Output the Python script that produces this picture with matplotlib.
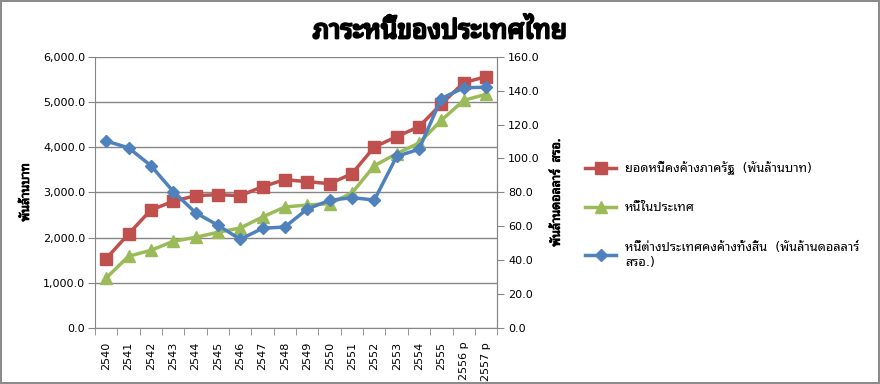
import matplotlib
matplotlib.use('Agg')
import matplotlib.pyplot as plt
import matplotlib.patheffects as pe
from matplotlib.ticker import FuncFormatter, MultipleLocator
import numpy as np

plt.rcParams['font.family'] = ['DejaVu Sans', 'Noto Sans Thai Looped']

years = ['2540', '2541', '2542', '2543', '2544', '2545', '2546', '2547', '2548',
         '2549', '2550', '2551', '2552', '2553', '2554', '2555', '2556 p', '2557 p']

# ยอดหนี้คงค้างภาครัฐ (พันล้านบาท) - left axis
public_debt = [1534, 2080, 2611, 2802, 2928, 2950, 2928, 3127, 3282,
               3237, 3193, 3414, 4004, 4233, 4454, 4956, 5428, 5560]
# หนี้ในประเทศ - left axis
domestic_debt = [1106, 1586, 1718, 1917, 2006, 2117, 2212, 2456, 2677,
                 2721, 2751, 2987, 3591, 3857, 4093, 4594, 5037, 5170]
# หนี้ต่างประเทศคงค้างทั้งสิ้น (พันล้านดอลลาร์ สรอ.) - right axis
foreign_debt = [110.3, 106.3, 95.8, 80.5, 68.0, 60.6, 52.3, 58.8, 59.6,
                70.2, 75.3, 76.9, 75.5, 101.2, 105.5, 135.4, 141.7, 142.1]

labels = ['ยอดหนี้คงค้างภาครัฐ  (พันล้านบาท)',
          'หนี้ในประเทศ',
          'หนี้ต่างประเทศคงค้างทั้งสิ้น  (พันล้านดอลลาร์\nสรอ.)']

red = '#C0504D'
green = '#9BBB59'
blue = '#4F81BD'
grid_c = '#868686'
thai = ['Noto Sans Thai Looped', 'DejaVu Sans']

fig = plt.figure(figsize=(8.8, 3.84), dpi=100)
fig.patch.set_edgecolor('#8c8c8c')
fig.patch.set_linewidth(1.5)
ax = fig.add_axes([0.108, 0.146, 0.457, 0.706])
ax2 = ax.twinx()

x = np.arange(len(years))
l1, = ax.plot(x, public_debt, color=red, lw=2.5, marker='s', ms=9, label=labels[0])
l2, = ax.plot(x, domestic_debt, color=green, lw=2.5, marker='^', ms=9, label=labels[1])
l3, = ax2.plot(x, foreign_debt, color=blue, lw=2.5, marker='D', ms=6.5, label=labels[2])

ax.set_xlim(-0.5, len(years) - 0.5)
ax.set_ylim(0, 6000)
ax2.set_ylim(0, 160)
ax.yaxis.set_major_locator(MultipleLocator(1000))
ax2.yaxis.set_major_locator(MultipleLocator(20))
ax.yaxis.set_major_formatter(FuncFormatter(lambda v, p: f'{v:,.1f}'))
ax2.yaxis.set_major_formatter(FuncFormatter(lambda v, p: f'{v:,.1f}'))

ax.set_xticks(x)
ax.set_xticklabels(years, rotation=90, fontsize=8)
ax.set_xticks(np.arange(-0.5, len(years)), minor=True)
ax.tick_params(axis='x', which='major', length=0, pad=10)
ax.tick_params(axis='x', which='minor', length=5, color=grid_c)
ax.tick_params(axis='y', length=5, color=grid_c, labelsize=8, pad=2)
ax2.tick_params(axis='y', length=5, color=grid_c, labelsize=8, pad=3)

ax.grid(axis='y', color=grid_c, lw=1)
ax.set_axisbelow(True)
for a in (ax, ax2):
    a.spines['top'].set_visible(False)
    for s in ('left', 'right', 'bottom'):
        a.spines[s].set_color(grid_c)
ax2.spines['left'].set_visible(False)
ax2.spines['bottom'].set_visible(False)

ax.set_ylabel('พันล้านบาท', fontsize=9, family=thai, labelpad=8,
              path_effects=[pe.withStroke(linewidth=0.6, foreground='black')])
ax2.set_ylabel('พันล้านดอลลาร์  สรอ.', fontsize=9, family=thai, labelpad=7,
               path_effects=[pe.withStroke(linewidth=0.6, foreground='black')])

fig.suptitle('ภาระหนี้ของประเทศไทย', fontsize=19, y=0.955, family=thai,
             path_effects=[pe.withStroke(linewidth=1.6, foreground='black')])

fig.legend([l1, l2, l3], labels, loc='center left', bbox_to_anchor=(0.652, 0.44),
           frameon=False, fontsize=9.2, labelspacing=2.05, handlelength=2.4,
           handletextpad=0.7)

fig.savefig('out.png', edgecolor=fig.get_edgecolor())
